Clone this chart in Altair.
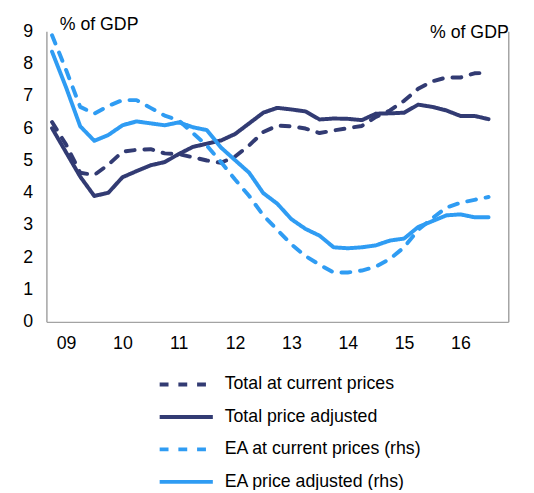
import altair as alt
import pandas as pd

quarters = [f"{y}Q{q}" for y in range(2009, 2017) for q in range(1, 5)]
year_ticks = [2009, 2010, 2011, 2012, 2013, 2014, 2015, 2016]

series_names = [
    "Total at current prices",
    "Total price adjusted",
    "EA at current prices (rhs)",
    "EA price adjusted (rhs)",
]

# left axis (% of GDP, 0-9)
total_current = [6.19, 5.49, 4.62, 4.55, 4.87, 5.27, 5.33, 5.35, 5.22, 5.20, 5.10, 5.00,
                 4.93, 5.12, 5.47, 5.88, 6.08, 6.06, 5.99, 5.85, 5.93, 6.00, 6.07, 6.35,
                 6.55, 6.85, 7.22, 7.45, 7.57, 7.57, 7.70, 7.72]
total_adjusted = [6.00, 5.25, 4.50, 3.90, 4.00, 4.48, 4.67, 4.85, 4.95, 5.20, 5.42, 5.52,
                  5.62, 5.82, 6.15, 6.48, 6.63, 6.58, 6.52, 6.27, 6.30, 6.29, 6.25, 6.45,
                  6.46, 6.48, 6.73, 6.66, 6.55, 6.38, 6.38, 6.28]
# right axis (% of GDP, 0-3)
ea_current = [2.96, 2.60, 2.22, 2.15, 2.23, 2.29, 2.29, 2.21, 2.13, 2.08, 1.95, 1.82,
              1.65, 1.47, 1.30, 1.10, 0.95, 0.80, 0.68, 0.59, 0.51, 0.51, 0.53, 0.57,
              0.65, 0.77, 0.95, 1.07, 1.18, 1.23, 1.26, 1.29]
ea_adjusted = [2.79, 2.42, 2.02, 1.87, 1.93, 2.03, 2.07, 2.05, 2.03, 2.06, 2.01, 1.98,
               1.80, 1.67, 1.54, 1.33, 1.22, 1.06, 0.96, 0.89, 0.77, 0.76, 0.77, 0.79,
               0.84, 0.86, 0.98, 1.04, 1.10, 1.11, 1.08, 1.08]

colors = ["#323b73", "#323b73", "#2f9cf3", "#2f9cf3"]
dashes = [[9, 10], [1, 0], [9, 10], [1, 0]]

def tval(qs):
    return int(qs[:4]) + (int(qs[5]) - 1) / 4


def frame(names, arrays):
    rows = []
    for n, arr in zip(names, arrays):
        for q, v in zip(quarters, arr):
            rows.append({"series": n, "t": tval(q), "value": v})
    return pd.DataFrame(rows)


df_left = frame(series_names[:2], [total_current, total_adjusted])
df_right = frame(series_names[2:], [ea_current, ea_adjusted])

FONT = "Liberation Sans"

legend = alt.Legend(
    title=None, orient="none", legendX=113, legendY=342, direction="vertical",
    symbolType="stroke", symbolSize=2916, symbolStrokeWidth=4,
    labelFont=FONT, labelFontSize=18, labelColor="black", labelOffset=10,
    rowPadding=0, clipHeight=33, padding=0, labelLimit=400,
)

color = alt.Color("series:N", scale=alt.Scale(domain=series_names, range=colors), legend=legend)
dash = alt.StrokeDash("series:N", scale=alt.Scale(domain=series_names, range=dashes), legend=legend)

x = alt.X(
    "t:Q",
    scale=alt.Scale(domain=[2008.9, 2017.1], nice=False, zero=False),
    axis=alt.Axis(
        title=None, values=[y + 0.25 for y in year_ticks],
        labelExpr="substring(toString(floor(datum.value)), 2)",
        ticks=False, labelPadding=13, labelFlush=False,
    ),
)

line_kw = dict(strokeWidth=4, strokeJoin="round", strokeCap="round")

left = alt.Chart(df_left).mark_line(**line_kw).encode(
    x=x,
    y=alt.Y(
        "value:Q",
        scale=alt.Scale(domain=[0, 9], nice=False),
        axis=alt.Axis(
            values=list(range(10)), title="% of GDP", titleAngle=0, titleAlign="left",
            titleBaseline="middle", titleX=13, titleY=-7, labelPadding=14, ticks=False,
        ),
    ),
    color=color,
    strokeDash=dash,
)

right = alt.Chart(df_right).mark_line(**line_kw).encode(
    x=x,
    y=alt.Y(
        "value:Q",
        scale=alt.Scale(domain=[0, 3], nice=False),
        axis=alt.Axis(
            orient="right", values=[0, 1, 2, 3], title="% of GDP", titleAngle=0,
            titleAlign="right", titleBaseline="middle", titleX=0, titleY=1,
            labelPadding=19, ticks=False,
        ),
    ),
    color=color,
    strokeDash=dash,
)

chart = (
    alt.layer(left, right)
    .resolve_scale(y="independent")
    .properties(
        width=469, height=295,
        autosize=alt.AutoSizeParams(type="none"),
        padding={"left": 39, "top": 20, "right": 18, "bottom": 167},
    )
    .configure_view(stroke=None)
    .configure_axis(
        grid=False, domainColor="#a3a3a3", domainWidth=1.5,
        labelFont=FONT, labelFontSize=18, labelColor="black",
        titleFont=FONT, titleFontSize=18, titleFontWeight="normal", titleColor="black",
    )
)

chart.save("out.html", embed_options={"renderer": "svg", "actions": False})
